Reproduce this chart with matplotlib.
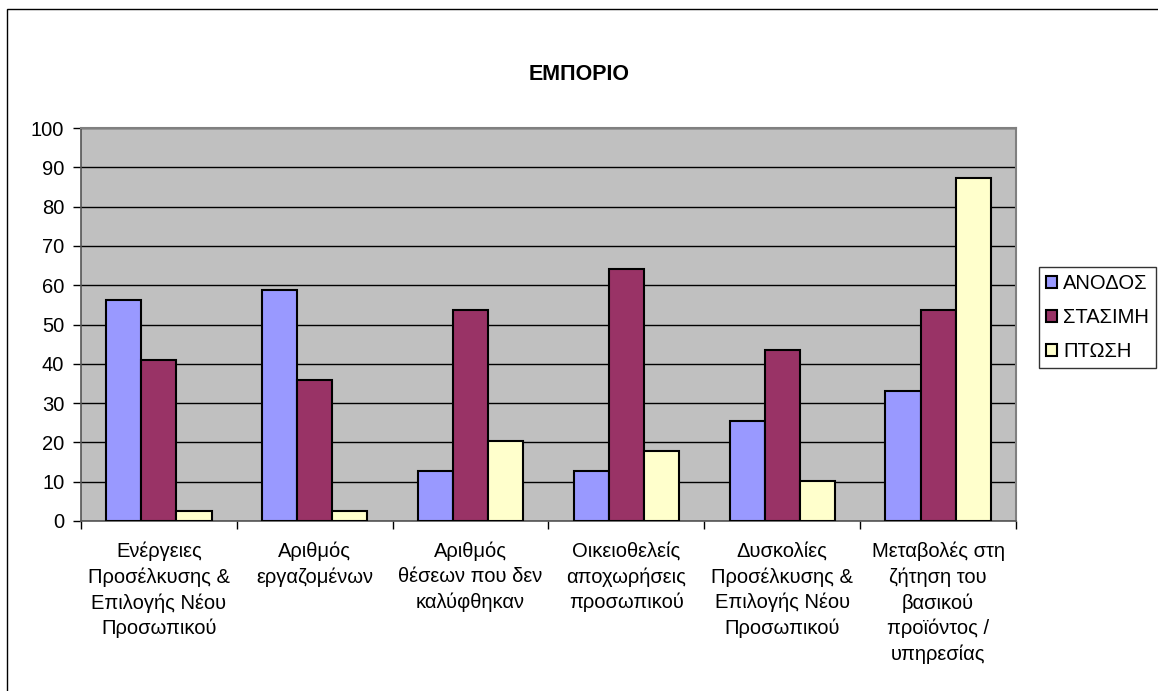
import numpy as np
import matplotlib.pyplot as plt
from matplotlib.patches import Rectangle

plt.rcParams['font.family'] = ['Liberation Sans', 'DejaVu Sans']

categories = [
    "Ενέργειες\nΠροσέλκυσης &\nΕπιλογής Νέου\nΠροσωπικού",
    "Αριθμός\nεργαζομένων",
    "Αριθμός\nθέσεων που δεν\nκαλύφθηκαν",
    "Οικειοθελείς\nαποχωρήσεις\nπροσωπικού",
    "Δυσκολίες\nΠροσέλκυσης &\nΕπιλογής Νέου\nΠροσωπικού",
    "Μεταβολές στη\nζήτηση του\nβασικού\nπροϊόντος /\nυπηρεσίας",
]
series_names = ["ΑΝΟΔΟΣ", "ΣΤΑΣΙΜΗ", "ΠΤΩΣΗ"]
anodos = [56.2, 58.9, 12.7, 12.7, 25.4, 33.2]
stasimi = [41.0, 35.8, 53.6, 64.0, 43.6, 53.6]
ptosi = [2.5, 2.5, 20.3, 17.7, 10.3, 87.2]
colors = ['#9999FF', '#993366', '#FFFFCC']

fig = plt.figure(figsize=(11.58, 6.91), dpi=100)
ax = fig.add_axes([81 / 1158, 1 - 521 / 691, (1016 - 81) / 1158, (521 - 128) / 691])
ax.set_facecolor('#C0C0C0')

x = np.arange(len(categories))
w = 0.225
for k, (vals, name) in enumerate(zip([anodos, stasimi, ptosi], series_names)):
    ax.bar(x + (k - 1) * w, vals, width=w, color=colors[k], edgecolor='black',
           linewidth=1.5, label=name, zorder=3)

ax.set_xlim(-0.5, len(categories) - 0.5)
ax.set_ylim(0, 100)
ax.set_yticks(np.arange(0, 101, 10))
ax.yaxis.grid(True, color='black', linewidth=1, zorder=0)
ax.set_axisbelow(True)

# tick marks on category boundaries, labels at centres
ax.set_xticks(np.arange(-0.5, len(categories), 1.0))
ax.set_xticklabels([])
ax.set_xticks(x, minor=True)
ax.set_xticklabels(categories, minor=True, fontsize=14.5, linespacing=1.4)
ax.tick_params(axis='x', which='minor', length=0, pad=15)
ax.tick_params(axis='x', which='major', length=6, width=1, color='black')
ax.tick_params(axis='y', length=6, width=1, labelsize=14.5, pad=6)

for s in ['top', 'right']:
    ax.spines[s].set_color('#808080')
    ax.spines[s].set_linewidth(1.5)
for s in ['left', 'bottom']:
    ax.spines[s].set_color('#555555')
    ax.spines[s].set_linewidth(1.2)

fig.text(0.5, 1 - 75 / 691, "ΕΜΠΟΡΙΟ", ha='center', va='center',
         fontsize=15.5, fontweight='bold')

leg = fig.legend(loc='upper left', bbox_to_anchor=(1039 / 1158, 1 - 267 / 691),
                 fontsize=14.5, frameon=True, fancybox=False, edgecolor='black',
                 handlelength=0.55, handleheight=0.55, handletextpad=0.3,
                 borderpad=0.35, labelspacing=0.75, borderaxespad=0)
leg.get_frame().set_linewidth(1)

# outer chart border
fig.patches.append(Rectangle((7 / 1158, -0.1), 1.2, (691 - 9) / 691 + 0.1,
                             transform=fig.transFigure, fill=False,
                             edgecolor='black', linewidth=1))

fig.savefig('out.png', dpi=100, facecolor='white')
